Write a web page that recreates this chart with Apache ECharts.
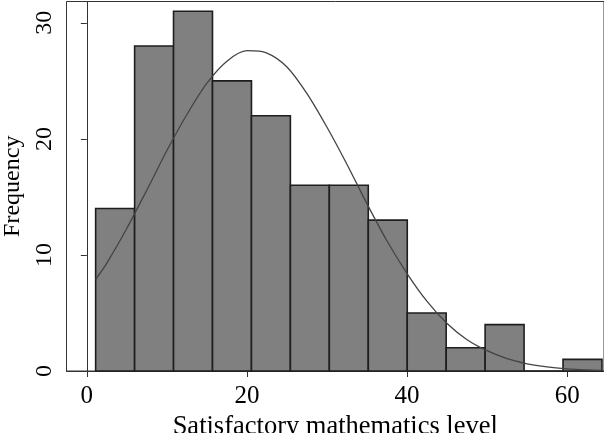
<!DOCTYPE html>
<html style="height: 100%">
<head>
<meta charset="utf-8">
<style>
    html, body { height: 100%; margin: 0; overflow: hidden; background: #fff; }
    #container { width: 604px; height: 433px; }
</style>
<title>Satisfactory mathematics level</title>
</head>
<body>
<div id="container"></div>
<script src="https://cdn.jsdelivr.net/npm/echarts@6/dist/echarts.min.js"></script>
<script type="text/javascript">
// histogram bins (left edges + width) and counts
var binStart = [1.1, 5.97, 10.83, 15.7, 20.56, 25.43, 30.29, 35.16, 40.02, 44.89, 49.75, 54.62, 59.48];
var binWidth = 4.865;
var counts = [14, 28, 31, 25, 22, 16, 16, 13, 5, 2, 4, 0, 1];

// fitted normal curve
var curveX = [1.1, 2.5, 5, 7.5, 10, 12.5, 15, 17.5, 20, 22.5, 25, 27.5, 30, 32.5, 35,
              37.5, 40, 42.5, 45, 47.5, 50, 52.5, 55, 57.5, 60, 62.5, 64.3];
var curveY = [7.9, 9.3, 12.3, 15.6, 19.0, 22.1, 24.8, 26.7, 27.6, 27.4, 26.2, 23.9, 21.0, 17.8, 14.4,
              11.2, 8.4, 6.0, 4.1, 2.7, 1.75, 1.06, 0.62, 0.35, 0.19, 0.1, 0.06];

var xTicks = [0, 20, 40, 60];
var yTicks = [0, 10, 20, 30];

var chart = echarts.init(document.getElementById('container'));

var histData = [];
for (var i = 0; i < counts.length; i++) {
    histData.push([binStart[i], binStart[i] + binWidth, counts[i]]);
}
var lineData = [];
for (var j = 0; j < curveX.length; j++) {
    lineData.push([curveX[j], curveY[j]]);
}

var fontFam = 'Liberation Serif';

var option = {
    animation: false,
    grid: {
        left: 66.5, right: 0, top: 1.5, bottom: 62,
        outerBoundsMode: 'none',
        containLabel: false,
        show: true, borderColor: '#333', borderWidth: 1
    },
    xAxis: {
        type: 'value',
        min: -2.54, max: 64.6,
        name: 'Satisfactory mathematics level',
        nameLocation: 'middle',
        nameGap: 41,
        nameTextStyle: { fontFamily: fontFam, fontSize: 26.5, color: '#000' },
        axisLine: { show: true, lineStyle: { color: '#333', width: 1 } },
        axisTick: { show: true, length: 6, customValues: xTicks, lineStyle: { color: '#333' } },
        axisLabel: { customValues: xTicks, fontFamily: fontFam, fontSize: 25, color: '#000', margin: 13 },
        splitLine: { show: false }
    },
    yAxis: {
        type: 'value',
        min: 0, max: 31.84,
        name: 'Frequency',
        nameLocation: 'middle',
        nameRotate: 90,
        nameGap: 38,
        nameTextStyle: { fontFamily: fontFam, fontSize: 24, color: '#000' },
        axisLine: { show: true, lineStyle: { color: '#333', width: 1 } },
        axisTick: { show: true, length: 6, customValues: yTicks, lineStyle: { color: '#333' } },
        axisLabel: { customValues: yTicks, rotate: 90, fontFamily: fontFam, fontSize: 24, color: '#000', margin: 10 },
        splitLine: { show: false }
    },
    series: [
        {
            type: 'custom',
            data: histData,
            renderItem: function (params, api) {
                var p0 = api.coord([api.value(0), 0]);
                var p1 = api.coord([api.value(1), api.value(2)]);
                return {
                    type: 'rect',
                    shape: { x: p0[0], y: p1[1], width: p1[0] - p0[0], height: p0[1] - p1[1] },
                    style: { fill: '#808080', stroke: '#1e1e1e', lineWidth: 1.6 }
                };
            },
            encode: { x: [0, 1], y: 2 }
        },
        {
            type: 'line',
            data: lineData,
            smooth: 0.3,
            showSymbol: false,
            lineStyle: { color: '#444', width: 1.3 },
            z: 5
        }
    ]
};
chart.setOption(option);
</script>
</body>
</html>
